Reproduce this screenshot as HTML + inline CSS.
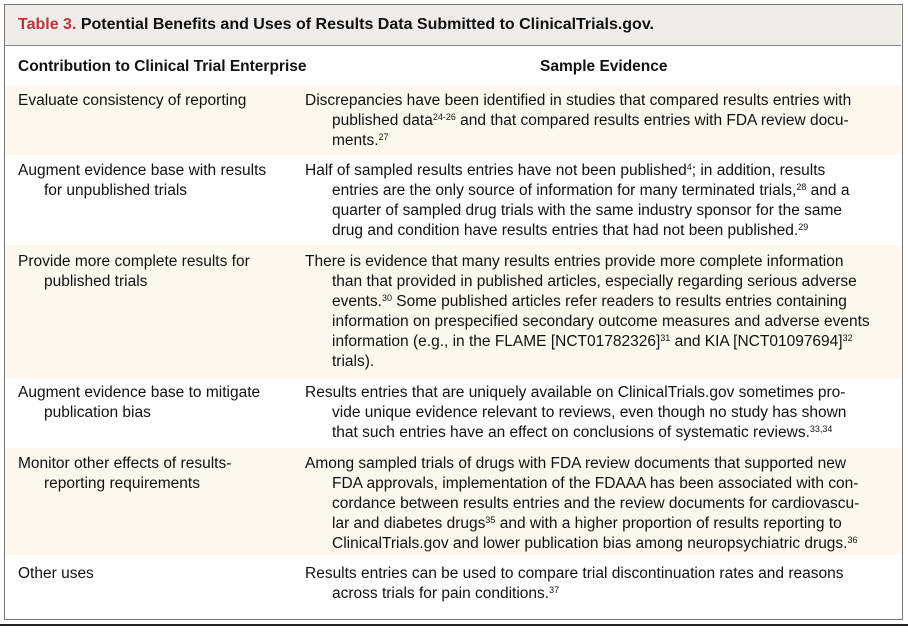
<!DOCTYPE html>
<html><head><meta charset="utf-8"><style>
body{margin:0;width:908px;height:633px;background:#fff;position:relative;overflow:hidden;font-family:"Liberation Sans",sans-serif;color:#111;}
.l{position:absolute;font-size:15.5px;line-height:20px;white-space:nowrap;}
sup{font-size:9px;line-height:0;vertical-align:5px;}
.b{font-weight:bold;}
.row{position:absolute;left:5px;width:897px;}
</style></head><body>
<div style="position:absolute;left:4px;top:4px;width:897px;height:614px;border:1.5px solid #777;"></div>
<div style="position:absolute;left:5px;top:5px;width:896px;height:40px;background:#efedea;border-bottom:1.5px solid #888;"></div>
<div class="row" style="top:86px;height:69px;background:#fcf8ee"></div>
<div class="row" style="top:245px;height:133px;background:#fcf8ee"></div>
<div class="row" style="top:448px;height:107px;background:#fcf8ee"></div>
<div style="position:absolute;left:0;top:624px;width:908px;height:2px;background:#222"></div>
<div class="l b" style="left:18px;top:15px;font-size:16px"><span style="color:#c0313a">Table 3.</span> Potential Benefits and Uses of Results Data Submitted to ClinicalTrials.gov.</div>
<div class="l b" style="left:18px;top:57px">Contribution to Clinical Trial Enterprise</div>
<div class="l b" style="left:540px;top:57px">Sample Evidence</div>

<div class="l" style="left:18px;top:91px">Evaluate consistency of reporting</div>
<div class="l" style="left:305px;top:91px">Discrepancies have been identified in studies that compared results entries with</div>
<div class="l" style="left:332px;top:111px">published data<sup>24-26</sup> and that compared results entries with FDA review docu-</div>
<div class="l" style="left:332px;top:131px">ments.<sup>27</sup></div>

<div class="l" style="left:18px;top:161px">Augment evidence base with results</div>
<div class="l" style="left:44px;top:181px">for unpublished trials</div>
<div class="l" style="left:305px;top:161px">Half of sampled results entries have not been published<sup>4</sup>; in addition, results</div>
<div class="l" style="left:332px;top:181px">entries are the only source of information for many terminated trials,<sup>28</sup> and a</div>
<div class="l" style="left:332px;top:201px">quarter of sampled drug trials with the same industry sponsor for the same</div>
<div class="l" style="left:332px;top:221px">drug and condition have results entries that had not been published.<sup>29</sup></div>

<div class="l" style="left:18px;top:252px">Provide more complete results for</div>
<div class="l" style="left:44px;top:272px">published trials</div>
<div class="l" style="left:305px;top:252px">There is evidence that many results entries provide more complete information</div>
<div class="l" style="left:332px;top:272px">than that provided in published articles, especially regarding serious adverse</div>
<div class="l" style="left:332px;top:292px">events.<sup>30</sup> Some published articles refer readers to results entries containing</div>
<div class="l" style="left:332px;top:312px">information on prespecified secondary outcome measures and adverse events</div>
<div class="l" style="left:332px;top:332px">information (e.g., in the FLAME [NCT01782326]<sup>31</sup> and KIA [NCT01097694]<sup>32</sup></div>
<div class="l" style="left:332px;top:352px">trials).</div>

<div class="l" style="left:18px;top:383px">Augment evidence base to mitigate</div>
<div class="l" style="left:44px;top:403px">publication bias</div>
<div class="l" style="left:305px;top:383px">Results entries that are uniquely available on ClinicalTrials.gov sometimes pro-</div>
<div class="l" style="left:332px;top:403px">vide unique evidence relevant to reviews, even though no study has shown</div>
<div class="l" style="left:332px;top:423px">that such entries have an effect on conclusions of systematic reviews.<sup>33,34</sup></div>

<div class="l" style="left:18px;top:454px">Monitor other effects of results-</div>
<div class="l" style="left:44px;top:474px">reporting requirements</div>
<div class="l" style="left:305px;top:454px">Among sampled trials of drugs with FDA review documents that supported new</div>
<div class="l" style="left:332px;top:474px">FDA approvals, implementation of the FDAAA has been associated with con-</div>
<div class="l" style="left:332px;top:494px">cordance between results entries and the review documents for cardiovascu-</div>
<div class="l" style="left:332px;top:514px">lar and diabetes drugs<sup>35</sup> and with a higher proportion of results reporting to</div>
<div class="l" style="left:332px;top:534px">ClinicalTrials.gov and lower publication bias among neuropsychiatric drugs.<sup>36</sup></div>

<div class="l" style="left:18px;top:564px">Other uses</div>
<div class="l" style="left:305px;top:564px">Results entries can be used to compare trial discontinuation rates and reasons</div>
<div class="l" style="left:332px;top:584px">across trials for pain conditions.<sup>37</sup></div>
</body></html>
